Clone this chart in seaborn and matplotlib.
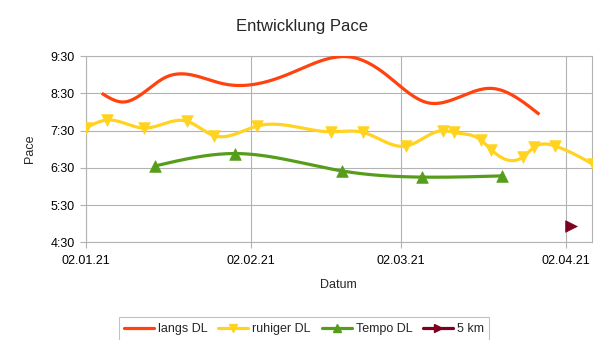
import numpy as np
import pandas as pd
import matplotlib
matplotlib.use("Agg")
import matplotlib.pyplot as plt
import matplotlib.dates as mdates
from matplotlib.lines import Line2D
from matplotlib.ticker import FixedLocator, FuncFormatter
import seaborn as sns

# ---------------- data ----------------
title = "Entwicklung Pace"
x_label = "Datum"
y_label = "Pace"

langs_dates = ["05.01.21", "09.01.21", "17.01.21", "28.01.21", "09.02.21",
               "21.02.21", "27.02.21", "07.03.21", "19.03.21", "28.03.21"]
langs_pace = ["8:30", "8:16", "8:56", "8:45", "9:01", "9:28", "9:02", "8:15",
              "8:38", "7:56"]

ruhig_dates = ["02.01.21", "06.01.21", "13.01.21", "21.01.21", "26.01.21",
               "03.02.21", "17.02.21", "23.02.21", "03.03.21", "10.03.21",
               "12.03.21", "17.03.21", "19.03.21", "25.03.21", "27.03.21",
               "31.03.21", "07.04.21"]
ruhig_pace = ["7:34", "7:47", "7:34", "7:45", "7:22", "7:37", "7:28", "7:27",
              "7:05", "7:30", "7:27", "7:15", "6:59", "6:48", "7:03", "7:05",
              "6:36"]

tempo_dates = ["15.01.21", "30.01.21", "19.02.21", "06.03.21", "21.03.21"]
tempo_pace = ["6:33", "6:53", "6:25", "6:15", "6:17"]

km5_dates = ["03.04.21"]
km5_pace = ["4:56"]

x_ticks = ["02.01.21", "02.02.21", "02.03.21", "02.04.21"]
y_ticks = ["4:30", "5:30", "6:30", "7:30", "8:30", "9:30"]

series_names = ["langs DL", "ruhiger DL", "Tempo DL", "5 km"]
colors = ["#ff420e", "#ffd320", "#579d1c", "#7e0021"]
markers = [None, "v", "^", ">"]


# ---------------- helpers ----------------
def to_num(dates):
    return mdates.date2num(pd.to_datetime(dates, format="%d.%m.%y"))


def to_min(paces):
    out = []
    for p in paces:
        m, s = p.split(":")
        out.append(int(m) + int(s) / 60.0)
    return np.array(out)


def fmt_pace(v, pos=None):
    m = int(np.floor(v + 1e-9))
    s = int(round((v - m) * 60))
    if s == 60:
        m, s = m + 1, 0
    return f"{m}:{s:02d}"


def natural_spline(x, y, n=400):
    x = np.asarray(x, float)
    y = np.asarray(y, float)
    k = len(x)
    if k < 3:
        return x, y
    h = np.diff(x)
    A = np.zeros((k, k))
    b = np.zeros(k)
    A[0, 0] = 1
    A[-1, -1] = 1
    for i in range(1, k - 1):
        A[i, i - 1] = h[i - 1]
        A[i, i] = 2 * (h[i - 1] + h[i])
        A[i, i + 1] = h[i]
        b[i] = 6 * ((y[i + 1] - y[i]) / h[i] - (y[i] - y[i - 1]) / h[i - 1])
    M = np.linalg.solve(A, b)
    xs = np.linspace(x[0], x[-1], n)
    idx = np.clip(np.searchsorted(x, xs) - 1, 0, k - 2)
    x0, x1 = x[idx], x[idx + 1]
    y0, y1 = y[idx], y[idx + 1]
    m0, m1 = M[idx], M[idx + 1]
    hh = x1 - x0
    a = (x1 - xs) / hh
    bb = (xs - x0) / hh
    ys = a * y0 + bb * y1 + ((a ** 3 - a) * m0 + (bb ** 3 - bb) * m1) * hh ** 2 / 6
    return xs, ys


# ---------------- figure ----------------
sns.set_theme(style="white")
plt.rcParams["font.family"] = ["Liberation Sans", "DejaVu Sans"]

fig = plt.figure(figsize=(6.05, 3.4), dpi=100)
ax = fig.add_axes([0.1417, 0.2874, 0.978 - 0.1417, 0.835 - 0.2874])

all_series = [
    (langs_dates, langs_pace),
    (ruhig_dates, ruhig_pace),
    (tempo_dates, tempo_pace),
    (km5_dates, km5_pace),
]

for (d, p), name, c, mk in zip(all_series, series_names, colors, markers):
    xv = to_num(d)
    yv = to_min(p)
    if len(xv) > 1:
        xs, ys = natural_spline(xv, yv)
        sns.lineplot(x=xs, y=ys, ax=ax, color=c, linewidth=2.3, sort=False,
                     estimator=None, solid_capstyle="butt", zorder=3)
    if mk is not None:
        sns.scatterplot(x=xv, y=yv, ax=ax, color=c, marker=mk, s=70,
                        edgecolor=c, linewidth=0.5, zorder=4)

# axes ranges / ticks
x0 = to_num(["02.01.21"])[0]
ax.set_xlim(x0, x0 + 94.8)
ax.set_ylim(4.5, 9.5)
ax.xaxis.set_major_locator(FixedLocator(to_num(x_ticks)))
ax.xaxis.set_major_formatter(FuncFormatter(lambda v, pos: mdates.num2date(v).strftime("%d.%m.%y")))
ax.yaxis.set_major_locator(FixedLocator(to_min(y_ticks)))
ax.yaxis.set_major_formatter(FuncFormatter(fmt_pace))

ax.grid(True, color="#b3b3b3", linewidth=0.8)
ax.set_axisbelow(True)
for sp in ax.spines.values():
    sp.set_color("#b3b3b3")
    sp.set_linewidth(0.8)
ax.tick_params(axis="both", labelsize=9, labelcolor="black", length=4,
               width=0.8, color="#b3b3b3")
ax.tick_params(axis="x", bottom=True, pad=5)
ax.tick_params(axis="y", left=True, pad=4)

ax.set_xlabel(x_label, fontsize=9, labelpad=9)
ax.set_ylabel(y_label, fontsize=9, labelpad=10)
fig.text(0.5, 1 - 27 / 340, title, ha="center", va="center", fontsize=12)

handles = []
for name, c, mk in zip(series_names, colors, markers):
    handles.append(Line2D([0], [0], color=c, lw=2.3, marker=mk, markersize=5.5,
                          markerfacecolor=c, markeredgecolor=c))
leg = fig.legend(handles=handles, labels=series_names, loc="center",
                 bbox_to_anchor=(0.5025, 1 - 329 / 340), ncol=4, fontsize=9,
                 frameon=True, fancybox=False, edgecolor="#b3b3b3",
                 handlelength=2.4, handletextpad=0.32, columnspacing=0.85,
                 borderpad=0.45, borderaxespad=0.0, numpoints=1)
leg.get_frame().set_linewidth(0.8)

fig.savefig("out.png", dpi=100, facecolor="white")
